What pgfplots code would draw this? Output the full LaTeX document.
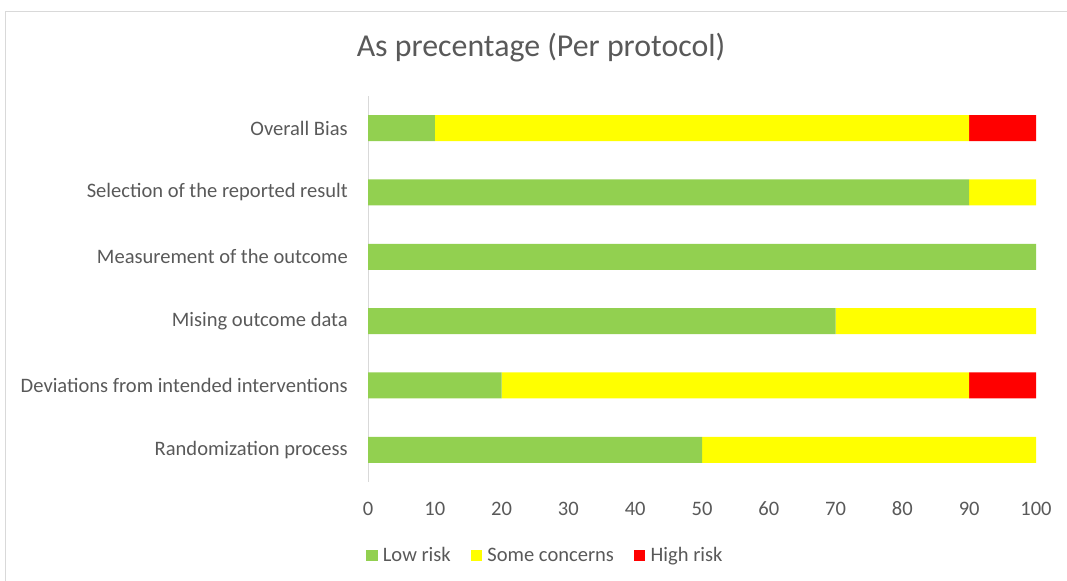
\documentclass[border=0pt]{standalone}
\usepackage{fontspec}
\setmainfont{Carlito}
\usepackage{pgfplots}
\usepackage{pgfplotstable}
\pgfplotsset{compat=1.18}
\definecolor{lowc}{HTML}{92D050}
\definecolor{somec}{HTML}{FFFF00}
\definecolor{highc}{HTML}{FF0000}
\definecolor{txt}{HTML}{595959}
\definecolor{axc}{HTML}{D9D9D9}
\pgfplotstableread{
y low some high
0 50 50 0
1 20 70 10
2 70 30 0
3 100 0 0
4 90 10 0
5 10 80 10
}\data
\begin{document}
\begin{tikzpicture}[x=0.75pt,y=0.75pt]
\useasboundingbox (0,0) rectangle (1067,581);
\draw[axc, line width=0.75pt] (5,0) -- (5,569) -- (1067,569);
\node[txt, font=\fontsize{23.9}{28}\selectfont] at (541,533) {As precentage (Per protocol)};
\begin{axis}[
  at={(276pt,74.25pt)}, anchor=south west,
  width=501pt, height=289.5pt, scale only axis,
  xbar stacked, bar width=19.5pt,
  xmin=0, xmax=100, ymin=-0.5, ymax=5.5,
  xtick={0,10,...,100},
  ytick={0,1,2,3,4,5},
  yticklabels={Randomization process, Deviations from intended interventions, Mising outcome data, Measurement of the outcome, Selection of the reported result, Overall Bias},
  major tick length=0pt,
  axis lines*=left,
  x axis line style={draw=none},
  y axis line style={draw=axc, line width=0.75pt},
  /pgf/number format/assume math mode=true,
  xticklabel style={anchor=center, yshift=-20pt, inner sep=0pt, text=txt, font=\fontsize{15.4}{18}\selectfont},
  yticklabel style={anchor=east, xshift=-15pt, inner sep=0pt, text=txt, font=\fontsize{15.4}{18}\selectfont},
  legend style={at={(0.266,-0.19)}, anchor=center, legend columns=3, draw=none, fill=none,
    font=\fontsize{15.4}{18}\selectfont, text=txt,
    /tikz/every odd column/.append style={column sep=2pt},
    /tikz/every even column/.append style={column sep=13pt}},
  legend cell align=left,
  legend image code/.code={\fill[#1] (0pt,-4.25pt) rectangle (8.5pt,4.25pt);},
]
\addplot[fill=lowc, draw=none] table[x=low, y=y] {\data};
\addplot[fill=somec, draw=none] table[x=some, y=y] {\data};
\addplot[fill=highc, draw=none] table[x=high, y=y] {\data};
\legend{Low risk, Some concerns, High risk}
\end{axis}
\end{tikzpicture}
\end{document}
